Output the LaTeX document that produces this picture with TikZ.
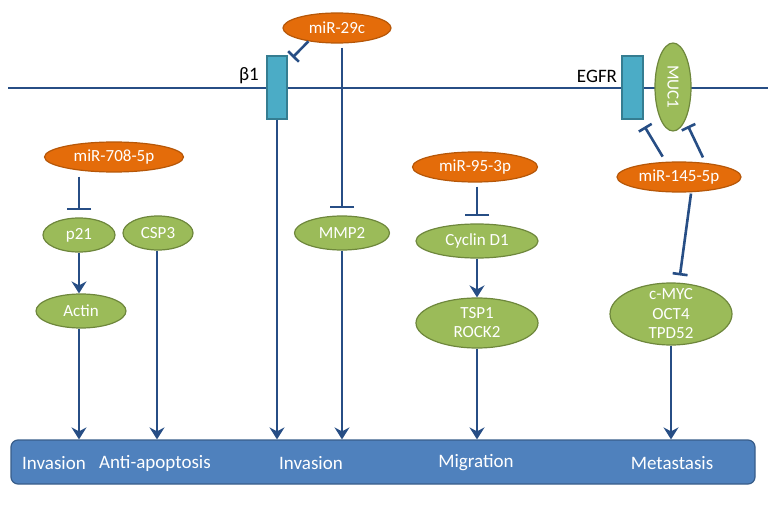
\documentclass[tikz,border=0pt]{standalone}
\usepackage{fontspec}
\setmainfont{Carlito}
\usetikzlibrary{shapes.geometric,arrows.meta,calc}
\definecolor{lineblue}{HTML}{274E85}
\definecolor{mirfill}{HTML}{E46C0A}
\definecolor{mirdraw}{HTML}{B65708}
\definecolor{gfill}{HTML}{9BBB59}
\definecolor{gdraw}{HTML}{6E873C}
\definecolor{recfill}{HTML}{4BACC6}
\definecolor{recdraw}{HTML}{357D91}
\definecolor{barfill}{HTML}{4F81BD}
\definecolor{bardraw}{HTML}{385D8A}
\begin{document}
\begin{tikzpicture}[x=1pt,y=-1pt,
  mir/.style={ellipse, fill=mirfill, draw=mirdraw, line width=1.2pt, text=white,
    font=\fontsize{17}{19}\selectfont, inner sep=0pt, minimum height=30pt},
  gene/.style={ellipse, fill=gfill, draw=gdraw, line width=1.2pt, text=white,
    font=\fontsize{17}{19}\selectfont, inner xsep=0pt, inner ysep=-14pt, align=center, minimum height=34pt},
  rec/.style={rectangle, fill=recfill, draw=recdraw, line width=1.2pt,
    minimum width=20pt, minimum height=63pt, inner sep=0pt},
  lab/.style={font=\fontsize{19}{21}\selectfont, inner sep=0pt},
  barlab/.style={lab, text=white},
  conn/.style={draw=lineblue, line width=2.6pt},
  act/.style={conn, -{Stealth[length=12pt,width=15pt,inset=4pt]}},
  inh/.style={conn, -{Bar[width=24pt,line width=2.6pt]}, shorten >=7pt},
  inhs/.style={conn, -{Bar[width=15pt,line width=2.6pt]}},
]
\useasboundingbox (0,0) rectangle (768,505);

% membrane
\coordinate (memL) at (8,88);
\coordinate (memR) at (768,88);
\draw[conn, line width=2.2pt] (memL) -- (memR);

% result bar
\node[draw=bardraw, fill=barfill, rounded corners=7pt, line width=1.2pt,
      minimum width=744pt, minimum height=44pt, inner sep=0pt] (bar) at (383,462) {};
\node[barlab] (r1) at (54,463) {Invasion};
\node[barlab] (r2) at (155,463) {Anti-apoptosis};
\node[barlab] (r3) at (311,463) {Invasion};
\node[barlab] (r4) at (476,463) {Migration};
\node[barlab] (r5) at (672,463) {Metastasis};

% receptors
\node[rec] (b1) at (277,87.5) {};
\node[lab, anchor=east] (b1lab) at (259,76) {β1};
\node[rec, minimum width=21pt] (egfr) at (632.5,87.5) {};
\node[lab] (egfrlab) at (597,76) {EGFR};
\node[gene, minimum width=88pt, minimum height=36pt, inner sep=0pt, rotate=-90] (muc1) at (673,87) {MUC1};

% miR-29c
\node[mir, minimum width=108pt] (m29c) at (337,28) {miR-29c};
\draw[inhs] (m29c.205) -- ($(b1.north east)+(5,2)$);
\node[gene, minimum width=95pt] (mmp2) at (342,233) {MMP2};
\draw[inh, shorten <=4pt] (mmp2.north |- m29c.south) -- (mmp2.north);
\draw[act] (mmp2.south) -- (mmp2.south |- bar.north);
\draw[act] (b1.south) -- (b1.south |- bar.north);

% miR-708-5p branch
\node[mir, minimum width=139pt] (m708) at (114,157) {miR-708-5p};
\node[gene, minimum width=72pt] (p21) at (79,235) {p21};
\node[gene, minimum width=70pt] (csp3) at (158,233) {CSP3};
\node[gene, minimum width=90pt] (actin) at (81,311) {Actin};
\draw[inh, shorten <=4pt] (p21.north |- m708.south) -- (p21.north);
\draw[act] (p21.south) -- (actin.north -| p21.south);
\draw[act] (actin.south -| p21.south) -- (bar.north -| p21.south);
\draw[act] (csp3.south -| 157,0) -- (bar.north -| 157,0);

% miR-95-3p branch
\node[mir, minimum width=125pt] (m95) at (475,167) {miR-95-3p};
\node[gene, minimum width=122pt] (cyc) at (477,241) {Cyclin D1};
\node[gene, minimum width=122pt, minimum height=50pt] (tsp) at (477,323) {TSP1\\ROCK2};
\draw[inh, shorten <=4pt] (cyc.north |- m95.south) -- (cyc.north);
\draw[act] (cyc.south) -- (tsp.north);
\draw[act] (tsp.south) -- (tsp.south |- bar.north);

% miR-145-5p branch
\node[mir, minimum width=124pt] (m145) at (679,177) {miR-145-5p};
\draw[inhs, shorten <=6pt] (m145.131) -- ($(egfr.south east)+(1,7)$);
\draw[inhs, shorten <=6pt] (m145.28) -- ($(muc1.center)+(15,39)$);
\node[gene, minimum width=122pt, minimum height=62pt, font=\fontsize{17}{19.5}\selectfont] (cmyc) at (671,314) {c-MYC\\OCT4\\TPD52};
\draw[inhs, shorten >=7pt] ($(m145.south)+(12,1)$) -- ($(cmyc.north)+(8,0)$);
\draw[act] (cmyc.south) -- (cmyc.south |- bar.north);
\end{tikzpicture}
\end{document}
